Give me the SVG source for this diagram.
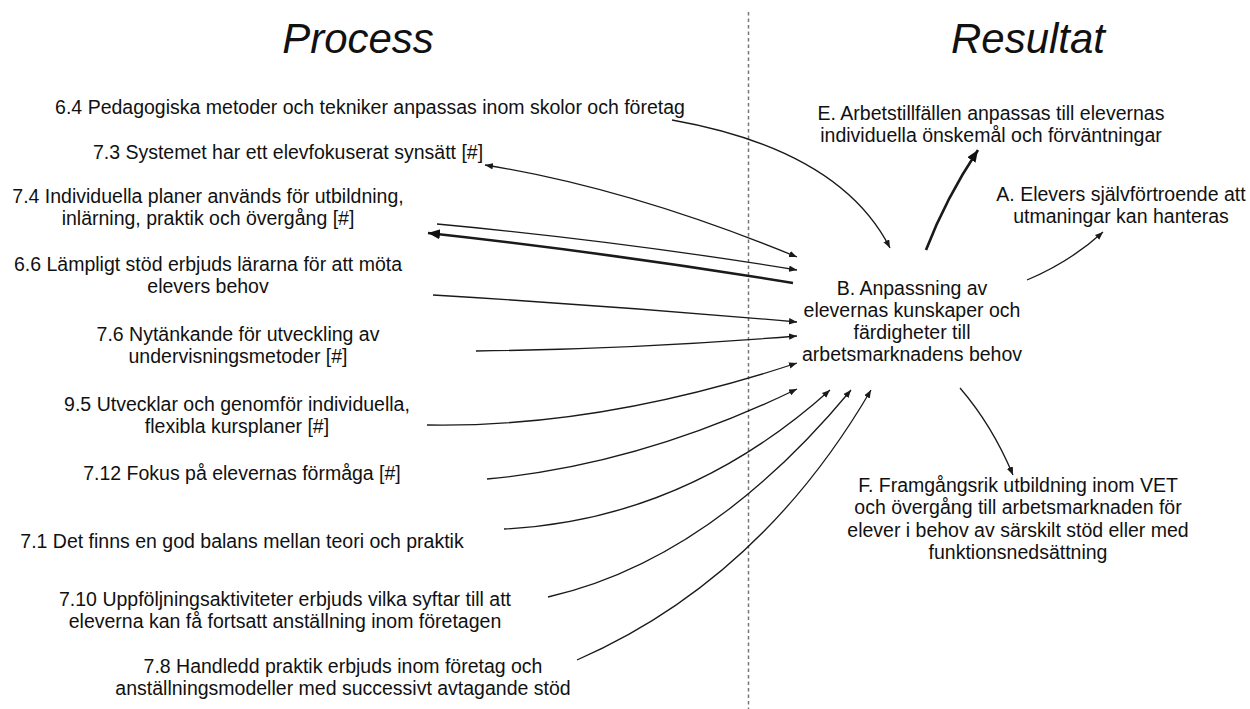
<svg xmlns="http://www.w3.org/2000/svg" width="1250" height="709" viewBox="0 0 1250 709">
  <style>
    text { font-family: "Liberation Sans", Arial, sans-serif; font-size: 19.5px; fill: #111; text-anchor: middle; }
    .title { font-size: 42px; font-style: italic; }
    .divider { stroke: #777; stroke-width: 1.5; stroke-dasharray: 3.5 3; fill: none; }
    .link { fill: none; stroke: #1a1a1a; stroke-width: 1.3; }
    .thin { marker-end: url(#tip); }
    .thick { stroke-width: 2.6; marker-end: url(#tipBold); }
    .both { marker-start: url(#tip); marker-end: url(#tip); }
  </style>
  <defs>
    <marker id="tip" markerUnits="userSpaceOnUse" markerWidth="9" markerHeight="7" refX="8" refY="3.2" orient="auto-start-reverse">
      <path d="M0,0 L8,3.2 L0,6.4 z" fill="#1a1a1a"/>
    </marker>
    <marker id="tipBold" markerUnits="userSpaceOnUse" markerWidth="14" markerHeight="11" refX="12" refY="5" orient="auto">
      <path d="M0,0 L12,5 L0,10 z" fill="#111"/>
    </marker>
  </defs>

  <rect width="1250" height="709" fill="#fff"/>

  <!-- column headings and divider -->
  <text class="title" x="358" y="53">Process</text>
  <text class="title" x="1028" y="53">Resultat</text>
  <line class="divider" x1="748.5" y1="12" x2="748.5" y2="709"/>

  <!-- process factors -->
  <g id="n64"><text x="370" y="114">6.4 Pedagogiska metoder och tekniker anpassas inom skolor och företag</text></g>
  <g id="n73"><text x="288" y="159">7.3 Systemet har ett elevfokuserat synsätt [#]</text></g>
  <g id="n74">
    <text x="208" y="203">7.4 Individuella planer används för utbildning,</text>
    <text x="208" y="225">inlärning, praktik och övergång [#]</text>
  </g>
  <g id="n66">
    <text x="208" y="271">6.6 Lämpligt stöd erbjuds lärarna för att möta</text>
    <text x="208" y="293">elevers behov</text>
  </g>
  <g id="n76">
    <text x="238" y="341">7.6 Nytänkande för utveckling av</text>
    <text x="238" y="363">undervisningsmetoder [#]</text>
  </g>
  <g id="n95">
    <text x="237" y="411">9.5 Utvecklar och genomför individuella,</text>
    <text x="237" y="433">flexibla kursplaner [#]</text>
  </g>
  <g id="n712"><text x="242" y="480">7.12 Fokus på elevernas förmåga [#]</text></g>
  <g id="n71"><text x="242" y="548">7.1 Det finns en god balans mellan teori och praktik</text></g>
  <g id="n710">
    <text x="285" y="606">7.10 Uppföljningsaktiviteter erbjuds vilka syftar till att</text>
    <text x="285" y="628">eleverna kan få fortsatt anställning inom företagen</text>
  </g>
  <g id="n78">
    <text x="343" y="673">7.8 Handledd praktik erbjuds inom företag och</text>
    <text x="343" y="695">anställningsmodeller med successivt avtagande stöd</text>
  </g>

  <!-- outcomes -->
  <g id="nE">
    <text x="991" y="120">E. Arbetstillfällen anpassas till elevernas</text>
    <text x="991" y="142">individuella önskemål och förväntningar</text>
  </g>
  <g id="nA">
    <text x="1121" y="201">A. Elevers självförtroende att</text>
    <text x="1121" y="223">utmaningar kan hanteras</text>
  </g>
  <g id="nB">
    <text x="912" y="295">B. Anpassning av</text>
    <text x="912" y="317">elevernas kunskaper och</text>
    <text x="912" y="339">färdigheter till</text>
    <text x="912" y="361">arbetsmarknadens behov</text>
  </g>
  <g id="nF">
    <text x="1018" y="492">F. Framgångsrik utbildning inom VET</text>
    <text x="1018" y="514">och övergång till arbetsmarknaden för</text>
    <text x="1018" y="537">elever i behov av särskilt stöd eller med</text>
    <text x="1018" y="559">funktionsnedsättning</text>
  </g>

  <!-- connectors -->
  <g id="connectors">
    <path class="link thin" d="M672,120 Q840,150 890,248"/>
    <path class="link both" d="M485,165 Q629,188 797,257"/>
    <path class="link thin" d="M437,224 Q620,241 797,270"/>
    <path class="link thick" d="M793,283 Q610,253 428,233"/>
    <path class="link thin" d="M433,295 Q615,306 797,322"/>
    <path class="link thin" d="M476,351 Q636,349 797,336"/>
    <path class="link thin" d="M427,425 Q600,428 797,363"/>
    <path class="link thin" d="M487,479 Q640,465 797,389"/>
    <path class="link thin" d="M504,529 Q685,520 830,390"/>
    <path class="link thin" d="M548,597 Q710,560 851,390"/>
    <path class="link thin" d="M577,660 Q760,580 871,390"/>
    <path class="link thick" d="M926,250 Q946,198 978,150"/>
    <path class="link thin" d="M1027,280 Q1070,262 1103,232"/>
    <path class="link thin" d="M960,388 Q992,425 1013,475"/>
  </g>
</svg>
